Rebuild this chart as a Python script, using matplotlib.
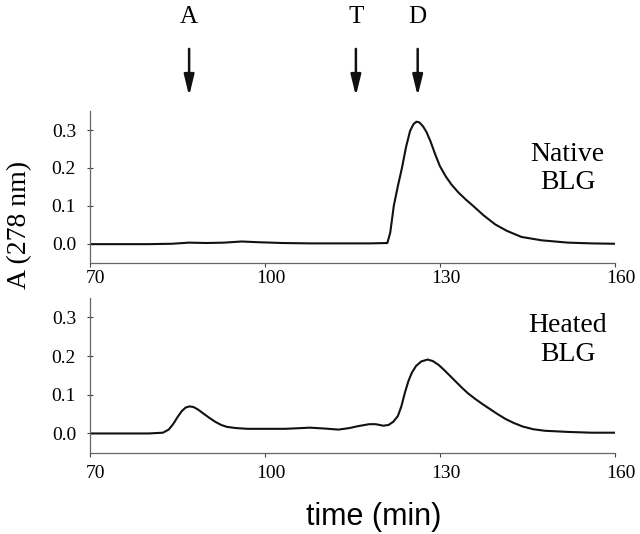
import matplotlib
matplotlib.use("Agg")
import matplotlib.pyplot as plt
from matplotlib.transforms import ScaledTranslation

t_nativo = [70, 75, 80, 84, 87, 90, 93, 96, 99, 103, 108, 113, 118, 121.0,
            121.5, 122.1, 122.8, 123.5, 124.2, 124.9, 125.5, 126.0, 126.5,
            127.1, 127.7, 128.4, 129.2, 130.0, 131.0, 132.0, 133.2, 134.5,
            135.7, 137.5, 139.5, 141.5, 144.0, 147.5, 152, 156, 160]
a_nativo = [-0.001, -0.001, -0.001, 0.0, 0.003, 0.002, 0.003, 0.006, 0.004,
            0.002, 0.001, 0.001, 0.001, 0.002,
            0.03, 0.1, 0.152, 0.2, 0.255, 0.298, 0.316, 0.322, 0.32,
            0.31, 0.295, 0.27, 0.236, 0.205, 0.178, 0.156, 0.135, 0.116,
            0.1, 0.075, 0.051, 0.034, 0.018, 0.009, 0.003, 0.001, 0.0]

t_calentado = [70, 75, 80, 82.5, 83.5, 84.3, 85.0, 85.7, 86.4, 87.1, 87.8,
               88.6, 89.5, 90.5, 91.5, 92.5, 93.5, 95, 97, 100, 103.5, 107.7,
               110, 112.6, 114.5, 116, 117.9, 119, 120.3, 121.2, 122, 122.8,
               123.4, 124.0, 124.6, 125.2, 125.9, 126.8, 127.9, 128.8, 129.8,
               130.8, 131.8, 132.8, 133.8, 134.8, 136.0, 137.3, 138.5, 139.8,
               141.2, 142.7, 144.2, 146, 148, 152, 156, 160]
a_calentado = [0.0, 0.0, 0.0, 0.002, 0.01, 0.025, 0.042, 0.057, 0.067, 0.07,
               0.068, 0.061, 0.051, 0.04, 0.03, 0.022, 0.017, 0.014, 0.012,
               0.012, 0.012, 0.015, 0.013, 0.01, 0.014, 0.019, 0.024, 0.024,
               0.02, 0.022, 0.03, 0.045, 0.07, 0.105, 0.135, 0.157, 0.174,
               0.186, 0.191, 0.187, 0.177, 0.163, 0.148, 0.133, 0.118, 0.104,
               0.09, 0.076, 0.064, 0.051, 0.038, 0.027, 0.018, 0.011, 0.007,
               0.004, 0.002, 0.002]

flechas = ['A', 'T', 'D']
pos_flechas = [87, 115.6, 126.2]

x_ticks = [70, 100, 130, 160]
y_ticks = [0.0, 0.1, 0.2, 0.3]

serif = 'Liberation Serif'
sans = 'Liberation Sans'

fig = plt.figure(figsize=(6.4, 5.34), dpi=100)
ax1 = fig.add_axes([0.1406, 0.508, 0.820, 0.284])
ax2 = fig.add_axes([0.1406, 0.152, 0.820, 0.290])


def preparar(ax, pad_x):
    ax.set_xlim(70, 160)
    ax.set_ylim(-0.05, 0.35)
    ax.set_xticks(x_ticks)
    ax.set_yticks(y_ticks)
    ax.set_yticklabels(['%.1f' % v for v in y_ticks], family=serif, fontsize=14)
    ax.set_xticklabels([str(v) for v in x_ticks], family=serif, fontsize=14)
    for s in ['top', 'right']:
        ax.spines[s].set_visible(False)
    for s in ['left', 'bottom']:
        ax.spines[s].set_color('#666666')
        ax.spines[s].set_linewidth(0.9)
    ax.tick_params(axis='y', direction='inout', length=4, width=0.8,
                   color='#444444', pad=8)
    ax.tick_params(axis='x', direction='out', length=3, width=0.8,
                   color='#444444', pad=pad_x)
    # las etiquetas del eje x estan un poco corridas a la derecha
    for lab in ax.get_xticklabels():
        lab.set_transform(lab.get_transform() +
                          ScaledTranslation(6 / 100, 0, fig.dpi_scale_trans))


preparar(ax1, 2)
preparar(ax2, 6)

ax1.plot(t_nativo, a_nativo, color='#111111', lw=1.5)
ax2.plot(t_calentado, a_calentado, color='#111111', lw=1.5)

ax1.text(0.91, 0.62, 'Native\nBLG', transform=ax1.transAxes, ha='center',
         va='center', family=serif, fontsize=20, linespacing=1.15)
ax2.text(0.91, 0.73, 'Heated\nBLG', transform=ax2.transAxes, ha='center',
         va='center', family=serif, fontsize=20, linespacing=1.2)

# flechas de los marcadores
for letra, xp in zip(flechas, pos_flechas):
    ax1.annotate('', xy=(xp, 1.10), xytext=(xp, 1.41),
                 xycoords=ax1.get_xaxis_transform(),
                 arrowprops=dict(arrowstyle='-|>,head_length=0.9,head_width=0.22',
                                 lw=1.8, color='#111111', mutation_scale=14,
                                 shrinkA=0, shrinkB=0))
    ax1.text(xp, 1.62, letra, transform=ax1.get_xaxis_transform(),
             ha='center', va='center', family=serif, fontsize=18)

fig.text(0.031, 0.578, 'A (278 nm)', rotation=90, ha='center', va='center',
         family=serif, fontsize=20)
fig.text(0.584, 0.032, 'time (min)', ha='center', va='center',
         family=sans, fontsize=22)

fig.savefig('out.png', dpi=100)
